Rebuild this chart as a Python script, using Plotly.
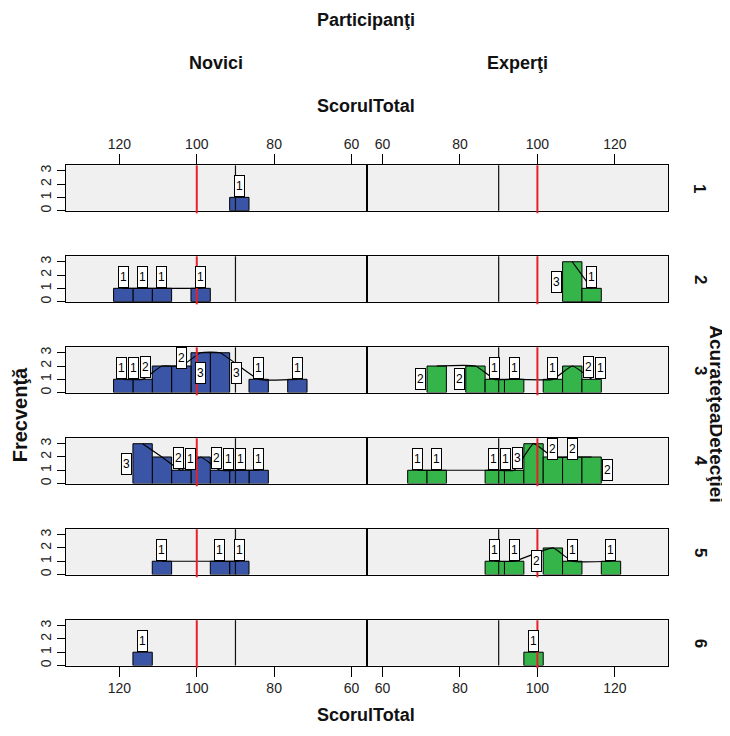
import plotly.graph_objects as go

# ---------------- data ----------------
bin_centers = [64, 69, 74, 79, 84, 89, 94, 99, 104, 109, 114, 119, 124]
bin_width = 5

novici_1 = [0, 0, 0, 0, 0, 1, 0, 0, 0, 0, 0, 0, 0]
novici_2 = [0, 0, 0, 0, 0, 0, 0, 1, 0, 1, 1, 1, 0]
novici_3 = [0, 0, 1, 0, 1, 0, 3, 3, 2, 2, 1, 1, 0]
novici_4 = [0, 0, 0, 0, 1, 1, 1, 2, 1, 2, 3, 0, 0]
novici_5 = [0, 0, 0, 0, 0, 1, 1, 0, 0, 1, 0, 0, 0]
novici_6 = [0, 0, 0, 0, 0, 0, 0, 0, 0, 0, 1, 0, 0]

experti_1 = [0, 0, 0, 0, 0, 0, 0, 0, 0, 0, 0, 0, 0]
experti_2 = [0, 0, 0, 0, 0, 0, 0, 0, 0, 3, 1, 0, 0]
experti_3 = [0, 0, 2, 0, 2, 1, 1, 0, 1, 2, 1, 0, 0]
experti_4 = [0, 1, 1, 0, 0, 1, 1, 3, 2, 2, 2, 0, 0]
experti_5 = [0, 0, 0, 0, 0, 1, 1, 0, 2, 1, 0, 1, 0]
experti_6 = [0, 0, 0, 0, 0, 0, 0, 1, 0, 0, 0, 0, 0]

row_levels = ["1", "2", "3", "4", "5", "6"]
group_names = ["Novici", "Experţi"]
x_ticks = [60, 80, 100, 120]
y_ticks = [0, 1, 2, 3]
target_score = 100
reference_score = 90

novici = [novici_1, novici_2, novici_3, novici_4, novici_5, novici_6]
experti = [experti_1, experti_2, experti_3, experti_4, experti_5, experti_6]

# ---------------- layout constants ----------------
OFF = 8                      # page body margin of the html page
W, H = 730 - OFF, 736 - 2 * OFF
x_lo, x_hi = 56.0, 133.8
y_top = 3.41
col_px = [(66 - OFF, 367 - OFF), (367 - OFF, 668.3 - OFF)]
row_top0, row_step, row_h = 165 - OFF, 91.35, 45.5
colors = ["#3b55a6", "#35b44a"]

TXT = "Liberation Sans, Arial, sans-serif"

fig = go.Figure()
layout = dict(
    width=W, height=H, margin=dict(l=0, r=0, t=0, b=0),
    paper_bgcolor="white", plot_bgcolor="#f0f0f0",
    showlegend=False, barmode="overlay",
)
shapes = []
annotations = []

kx = (col_px[0][1] - col_px[0][0]) / (x_hi - x_lo)  # px per score unit
ky = row_h / y_top                                   # px per count
box_w, box_h = 11, 22
hw = box_w / 2.0
hh = (box_h / 2.0) / ky
half_bar = bin_width / 2 * kx


def place_labels(count_map, reverse):
    def scr(b):
        return (x_hi - b) * kx if reverse else (b - x_lo) * kx

    step = bin_width if reverse else -bin_width   # bin on the screen-left
    fixed, movable = [], []
    for b, c in sorted(count_map.items()):
        if c <= 0:
            continue
        sx = scr(b)
        if c == 1:
            movable.append([sx, 1 + hh, c])
            continue
        L = count_map.get(b + step, 0)
        R = count_map.get(b - step, 0)
        if L == 0:
            side = "L"
        elif R == 0:
            side = "R"
        elif L == 1 and R == 1:
            side = "R"
        elif L == 1:
            side = "L"
        elif R == 1:
            side = "R"
        else:
            side = None
        if side == "L":
            fixed.append([sx - half_bar - hw - 1, max(L + hh + 0.1, c / 2), c])
        elif side == "R":
            fixed.append([sx + half_bar + hw + 1, max(R + hh + 0.1, c / 2), c])
        elif c >= 3:
            fixed.append([sx, c / 2, c])
        else:
            fixed.append([sx, y_top - hh, c])

    placed = list(fixed)

    def near(m):
        return min([abs(m[0] - f[0]) for f in fixed] or [abs(m[0])])

    movable.sort(key=near)
    for m in movable:
        for _ in range(30):
            hit = None
            for p in placed:
                if abs(m[1] - p[1]) < 2 * hh - 1e-6 and abs(m[0] - p[0]) < box_w + 1 - 1e-6:
                    hit = p
                    break
            if hit is None:
                break
            d = 1 if m[0] > hit[0] else -1
            m[0] = hit[0] + d * (box_w + 1.01)
        placed.append(m)
    out = []
    for cx, cy, c in placed:
        v = x_hi - cx / kx if reverse else x_lo + cx / kx
        out.append((v, cy, c))
    return out


for r in range(6):
    top = row_top0 + r * row_step
    ydom = [1 - (top + row_h) / H, 1 - top / H]
    for c in range(2):
        idx = r * 2 + c + 1
        xa = "x" if idx == 1 else f"x{idx}"
        ya = "y" if idx == 1 else f"y{idx}"
        xkey = "xaxis" if idx == 1 else f"xaxis{idx}"
        ykey = "yaxis" if idx == 1 else f"yaxis{idx}"
        reverse = (c == 0)
        xdom = [col_px[c][0] / W, col_px[c][1] / W]

        xax = dict(
            domain=xdom, anchor=ya,
            range=[x_hi, x_lo] if reverse else [x_lo, x_hi],
            showgrid=False, zeroline=False,
            showline=True, linecolor="black", linewidth=1, mirror=True,
            tickvals=x_ticks, ticktext=[str(t) for t in x_ticks],
            tickfont=dict(family=TXT, size=14, color="#222"),
        )
        if r == 0:
            xax.update(side="top", ticks="outside", ticklen=10, tickcolor="black",
                       showticklabels=True)
        elif r == 5:
            xax.update(side="bottom", ticks="outside", ticklen=10, tickcolor="black",
                       showticklabels=True)
        else:
            xax.update(ticks="", showticklabels=False)
        layout[xkey] = xax

        yax = dict(
            domain=ydom, anchor=xa, range=[0, y_top],
            showgrid=False, zeroline=False,
            showline=True, linecolor="black", linewidth=1, mirror=True,
            tickvals=y_ticks,
        )
        if c == 0:
            yax.update(ticks="outside", ticklen=8, tickcolor="black",
                       tickangle=-90, showticklabels=True,
                       tickfont=dict(family=TXT, size=14, color="#222"))
        else:
            yax.update(ticks="", showticklabels=False)
        layout[ykey] = yax

        counts = (novici if c == 0 else experti)[r]
        pts = [(b, n) for b, n in zip(bin_centers, counts) if n > 0]
        if pts:
            fig.add_trace(go.Bar(
                x=[p[0] for p in pts], y=[p[1] for p in pts],
                width=bin_width, xaxis=xa, yaxis=ya,
                marker=dict(color=colors[c], line=dict(color="black", width=1)),
                hoverinfo="skip",
            ))
        if len(pts) > 1:
            fig.add_trace(go.Scatter(
                x=[p[0] for p in pts], y=[p[1] for p in pts],
                xaxis=xa, yaxis=ya, mode="lines",
                line=dict(color="black", width=1.2, shape="spline", smoothing=0.4),
                hoverinfo="skip",
            ))

        shapes.append(dict(type="line", xref=xa, yref=f"{ya} domain",
                           x0=reference_score, x1=reference_score, y0=0, y1=1,
                           line=dict(color="#111", width=1.2), layer="above"))
        shapes.append(dict(type="line", xref=xa, yref=f"{ya} domain",
                           x0=target_score, x1=target_score, y0=-0.06, y1=1,
                           line=dict(color="#e8202a", width=2), layer="above"))

        for v, cy, n in place_labels(dict(pts), reverse):
            annotations.append(dict(
                x=v, y=cy, xref=xa, yref=ya, text=str(n), showarrow=False,
                xanchor="center", yanchor="middle",
                font=dict(family=TXT, size=12, color="black"),
                bgcolor="white", bordercolor="black", borderwidth=1, borderpad=1,
                width=box_w - 4, height=box_h - 4,
            ))

    annotations.append(dict(
        x=(700 - OFF) / W, y=1 - (top + row_h / 2) / H, xref="paper", yref="paper",
        text=f"<b>{row_levels[r]}</b>", showarrow=False, textangle=90,
        font=dict(family=TXT, size=17, color="#111"),
        xanchor="center", yanchor="middle"))


def paper_text(txt, px, py, size, angle=0):
    annotations.append(dict(
        x=(px - OFF) / W, y=1 - (py - OFF) / H, xref="paper", yref="paper",
        text=f"<b>{txt}</b>", showarrow=False, textangle=angle,
        font=dict(family=TXT, size=size, color="#111"),
        xanchor="center", yanchor="middle"))


paper_text("Participanţi", 366, 19, 18)
paper_text(group_names[0], 216, 62, 18)
paper_text(group_names[1], 517, 62, 18)
paper_text("ScorulTotal", 366, 105, 18)
paper_text("ScorulTotal", 366, 717, 18)
paper_text("Frecvenţă", 20, 416, 20, angle=-90)
paper_text("AcurateţeaDetecţiei", 717, 414, 19, angle=90)

layout["shapes"] = shapes
layout["annotations"] = annotations
fig.update_layout(**layout)
fig.write_html("out.html")
